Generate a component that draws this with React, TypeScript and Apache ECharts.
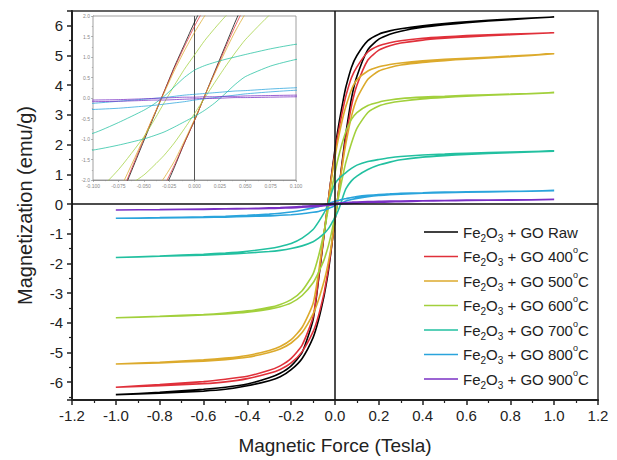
import React, { useEffect, useRef } from "react";
import * as echarts from "echarts";

// Applied field grid (Tesla), shared by every branch
const FIELD = [-1, -0.8, -0.6, -0.5, -0.4, -0.3, -0.25, -0.2, -0.15, -0.1, -0.075, -0.05, -0.04, -0.03, -0.02, -0.01, 0, 0.01, 0.02, 0.03, 0.04, 0.05, 0.075, 0.1, 0.15, 0.2, 0.25, 0.3, 0.4, 0.5, 0.6, 0.8, 1];

// Upper branch (field decreasing) and lower branch (field increasing), emu/g
const RAW_UPPER = [-6.42, -6.34, -6.24, -6.17, -6.06, -5.85, -5.7, -5.45, -5.0, -3.9, -2.55, -1.05, -0.45, 0.15, 0.75, 1.3, 1.85, 2.35, 2.8, 3.2, 3.6, 3.95, 4.6, 5.0, 5.5, 5.72, 5.83, 5.9, 6.0, 6.08, 6.14, 6.23, 6.3];
const RAW_LOWER = [-6.42, -6.37, -6.3, -6.24, -6.12, -5.95, -5.82, -5.58, -5.2, -4.5, -3.9, -3.1, -2.7, -2.25, -1.7, -1.1, -0.55, 0.05, 0.65, 1.25, 1.85, 2.4, 3.55, 4.3, 5.2, 5.55, 5.72, 5.82, 5.95, 6.04, 6.11, 6.21, 6.3];
const T400_UPPER = [-6.17, -6.08, -5.98, -5.9, -5.8, -5.6, -5.45, -5.2, -4.75, -3.8, -2.5, -1.0, -0.42, 0.15, 0.72, 1.25, 1.75, 2.2, 2.6, 2.98, 3.33, 3.65, 4.25, 4.62, 5.12, 5.33, 5.43, 5.5, 5.58, 5.63, 5.67, 5.72, 5.77];
const T400_LOWER = [-6.17, -6.12, -6.05, -5.99, -5.88, -5.7, -5.57, -5.35, -4.97, -4.3, -3.75, -3.0, -2.6, -2.15, -1.65, -1.1, -0.55, 0.05, 0.62, 1.2, 1.75, 2.25, 3.3, 4.0, 4.85, 5.18, 5.33, 5.42, 5.52, 5.58, 5.63, 5.7, 5.77];
const T500_UPPER = [-5.39, -5.33, -5.25, -5.19, -5.1, -4.93, -4.8, -4.57, -4.15, -3.35, -2.3, -0.98, -0.42, 0.12, 0.66, 1.15, 1.6, 2.0, 2.38, 2.72, 3.03, 3.3, 3.85, 4.18, 4.48, 4.62, 4.7, 4.75, 4.82, 4.87, 4.91, 4.98, 5.06];
const T500_LOWER = [-5.39, -5.35, -5.29, -5.24, -5.16, -5.0, -4.88, -4.68, -4.33, -3.7, -3.22, -2.6, -2.3, -1.95, -1.55, -1.05, -0.52, 0.05, 0.6, 1.12, 1.62, 2.05, 2.95, 3.55, 4.2, 4.48, 4.6, 4.68, 4.77, 4.83, 4.88, 4.96, 5.06];
const T600_UPPER = [-3.83, -3.78, -3.72, -3.67, -3.6, -3.48, -3.38, -3.22, -2.92, -2.35, -1.75, -0.95, -0.55, -0.12, 0.3, 0.7, 1.05, 1.4, 1.7, 1.98, 2.22, 2.45, 2.85, 3.08, 3.32, 3.43, 3.5, 3.55, 3.6, 3.63, 3.66, 3.7, 3.75];
const T600_LOWER = [-3.83, -3.79, -3.74, -3.7, -3.64, -3.54, -3.46, -3.33, -3.08, -2.65, -2.3, -1.88, -1.65, -1.4, -1.1, -0.75, -0.38, 0.0, 0.38, 0.75, 1.1, 1.42, 2.05, 2.55, 3.08, 3.3, 3.4, 3.46, 3.54, 3.59, 3.63, 3.69, 3.75];
const T700_UPPER = [-1.8, -1.75, -1.69, -1.65, -1.59, -1.5, -1.43, -1.33, -1.15, -0.86, -0.6, -0.3, -0.15, 0.04, 0.27, 0.5, 0.68, 0.79, 0.87, 0.94, 1.0, 1.06, 1.2, 1.31, 1.43, 1.5, 1.56, 1.6, 1.65, 1.68, 1.71, 1.75, 1.78];
const T700_LOWER = [-1.8, -1.76, -1.72, -1.69, -1.65, -1.6, -1.56, -1.5, -1.41, -1.27, -1.15, -1.0, -0.92, -0.83, -0.71, -0.58, -0.45, -0.3, -0.12, 0.1, 0.33, 0.52, 0.78, 0.94, 1.16, 1.31, 1.41, 1.49, 1.58, 1.63, 1.67, 1.73, 1.78];
const T800_UPPER = [-0.48, -0.46, -0.43, -0.41, -0.38, -0.34, -0.31, -0.27, -0.21, -0.13, -0.08, -0.03, -0.01, 0.01, 0.04, 0.07, 0.09, 0.11, 0.13, 0.15, 0.17, 0.18, 0.22, 0.25, 0.29, 0.32, 0.34, 0.36, 0.38, 0.4, 0.41, 0.43, 0.45];
const T800_LOWER = [-0.48, -0.47, -0.45, -0.44, -0.42, -0.4, -0.38, -0.36, -0.33, -0.28, -0.25, -0.2, -0.18, -0.15, -0.12, -0.09, -0.05, -0.02, 0.01, 0.04, 0.07, 0.1, 0.15, 0.19, 0.25, 0.29, 0.31, 0.33, 0.36, 0.38, 0.4, 0.42, 0.45];
const T900_UPPER = [-0.2, -0.19, -0.17, -0.16, -0.15, -0.13, -0.12, -0.1, -0.08, -0.05, -0.04, -0.02, -0.01, 0.0, 0.01, 0.02, 0.02, 0.03, 0.03, 0.04, 0.04, 0.05, 0.06, 0.07, 0.08, 0.09, 0.1, 0.1, 0.11, 0.12, 0.13, 0.14, 0.15];
const T900_LOWER = [-0.2, -0.19, -0.18, -0.17, -0.16, -0.15, -0.14, -0.13, -0.11, -0.09, -0.08, -0.06, -0.05, -0.05, -0.04, -0.03, -0.02, -0.01, -0.01, 0.0, 0.01, 0.01, 0.02, 0.03, 0.05, 0.06, 0.07, 0.08, 0.1, 0.11, 0.12, 0.13, 0.15];

const SERIES_NAMES = [
  "Fe2O3 + GO Raw",
  "Fe2O3 + GO 400°C",
  "Fe2O3 + GO 500°C",
  "Fe2O3 + GO 600°C",
  "Fe2O3 + GO 700°C",
  "Fe2O3 + GO 800°C",
  "Fe2O3 + GO 900°C",
];
const LEGEND_RICH = [
  "Fe{sub|2}O{sub|3} + GO Raw",
  "Fe{sub|2}O{sub|3} + GO 400{sup|o}C",
  "Fe{sub|2}O{sub|3} + GO 500{sup|o}C",
  "Fe{sub|2}O{sub|3} + GO 600{sup|o}C",
  "Fe{sub|2}O{sub|3} + GO 700{sup|o}C",
  "Fe{sub|2}O{sub|3} + GO 800{sup|o}C",
  "Fe{sub|2}O{sub|3} + GO 900{sup|o}C",
];
const UPPERS = [RAW_UPPER, T400_UPPER, T500_UPPER, T600_UPPER, T700_UPPER, T800_UPPER, T900_UPPER];
const LOWERS = [RAW_LOWER, T400_LOWER, T500_LOWER, T600_LOWER, T700_LOWER, T800_LOWER, T900_LOWER];
const COLORS = ["#000000", "#e0303a", "#dcaa2c", "#a2d03c", "#22c0a0", "#2aa4dc", "#7a30c4"];

const X_TITLE = "Magnetic Force (Tesla)";
const Y_TITLE = "Magnetization (emu/g)";
const FONT = "'Liberation Sans', Arial, Helvetica, sans-serif";

function loop(upper: number[], lower: number[]) {
  const down = FIELD.map((h, i) => [h, upper[i]]).reverse();
  const up = FIELD.map((h, i) => [h, lower[i]]);
  return down.concat(up);
}

export default function App() {
  const ref = useRef<HTMLDivElement>(null);
  useEffect(() => {
    if (!ref.current) return;
    const chart = echarts.init(ref.current, null, { renderer: "svg" });
    const axisColor = "#222";
    const mainSeries = SERIES_NAMES.map((name, k) => ({
      name,
      type: "line",
      xAxisIndex: 0,
      yAxisIndex: 0,
      data: loop(UPPERS[k], LOWERS[k]),
      symbol: "none",
      smooth: 0.2,
      lineStyle: { color: COLORS[k], width: 1.6 },
      itemStyle: { color: COLORS[k] },
      z: 3,
      ...(k === 0
        ? {
            markLine: {
              silent: true,
              symbol: ["none", "none"],
              label: { show: false },
              lineStyle: { color: "#111", width: 1.5, type: "solid" },
              data: [{ xAxis: 0 }, { yAxis: 0 }],
            },
          }
        : {}),
    }));
    const insetSeries = SERIES_NAMES.map((name, k) => ({
      name,
      type: "line",
      xAxisIndex: 1,
      yAxisIndex: 1,
      data: loop(UPPERS[k], LOWERS[k]),
      symbol: "none",
      smooth: 0.2,
      clip: true,
      lineStyle: { color: COLORS[k], width: 1, opacity: 0.75 },
      itemStyle: { color: COLORS[k] },
      z: 5,
      ...(k === 0
        ? {
            markLine: {
              silent: true,
              symbol: ["none", "none"],
              label: { show: false },
              lineStyle: { color: "#555", width: 1, type: "solid" },
              data: [{ xAxis: 0 }],
            },
          }
        : {}),
    }));

    chart.setOption({
      animation: false,
      backgroundColor: "#ffffff",
      textStyle: { fontFamily: FONT },
      grid: [
        { left: 72, right: 19, top: 11, bottom: 57, show: true, borderColor: "#333", borderWidth: 1.5, containLabel: false },
        { left: 93, right: 321, top: 16, bottom: 280, show: true, borderColor: "#888", borderWidth: 0.8, backgroundColor: "#fff", z: 4 },
      ],
      legend: {
        data: SERIES_NAMES,
        orient: "vertical",
        left: 419,
        top: 216,
        itemWidth: 34,
        itemHeight: 14,
        itemGap: 2.5,
        icon: "path://M0,6.25 L34,6.25 L34,7.75 L0,7.75 Z",
        formatter: (name: string) => LEGEND_RICH[SERIES_NAMES.indexOf(name)],
        textStyle: {
          fontFamily: FONT,
          fontSize: 15,
          lineHeight: 22,
          color: "#222",
          rich: {
            sub: { fontFamily: FONT, fontSize: 10, lineHeight: 12, verticalAlign: "bottom", color: "#222" },
            sup: { fontFamily: FONT, fontSize: 9, lineHeight: 12, verticalAlign: "top", color: "#222" },
          },
        },
      },
      xAxis: [
        {
          type: "value",
          gridIndex: 0,
          min: -1.2,
          max: 1.2,
          interval: 0.2,
          name: X_TITLE,
          nameLocation: "middle",
          nameGap: 36,
          nameTextStyle: { fontSize: 19, color: "#222", fontFamily: FONT },
          axisLine: { onZero: false, lineStyle: { color: axisColor, width: 2 } },
          axisTick: { inside: false, length: 5, lineStyle: { color: axisColor, width: 1.5 } },
          minorTick: { show: true, splitNumber: 2, length: 3, lineStyle: { color: axisColor, width: 1.2 } },
          splitLine: { show: false },
          axisLabel: { fontSize: 15, color: "#222", margin: 8, fontFamily: FONT, formatter: (v: number) => v.toFixed(1) },
        },
        {
          type: "value",
          gridIndex: 1,
          min: -0.1,
          max: 0.1,
          interval: 0.025,
          axisLine: { onZero: false, lineStyle: { color: "#888", width: 0.8 } },
          axisTick: { inside: false, length: 2, lineStyle: { color: "#888", width: 0.6 } },
          minorTick: { show: true, splitNumber: 2, length: 1.2, lineStyle: { color: "#888", width: 0.5 } },
          splitLine: { show: false },
          axisLabel: { fontSize: 5, color: "#888", margin: 3, fontFamily: FONT, formatter: (v: number) => v.toFixed(3) },
        },
      ],
      yAxis: [
        {
          type: "value",
          gridIndex: 0,
          min: -6.6,
          max: 6.5,
          splitNumber: 13,
          name: Y_TITLE,
          nameLocation: "middle",
          nameGap: 37,
          nameTextStyle: { fontSize: 20, color: "#222", fontFamily: FONT },
          axisLine: { onZero: false, lineStyle: { color: axisColor, width: 2 } },
          axisTick: { inside: false, length: 5, lineStyle: { color: axisColor, width: 1.5 } },
          minorTick: { show: true, splitNumber: 2, length: 3, lineStyle: { color: axisColor, width: 1.2 } },
          splitLine: { show: false },
          axisLabel: {
            fontSize: 15,
            color: "#222",
            margin: 9,
            fontFamily: FONT,
            showMinLabel: false,
            showMaxLabel: false,
            formatter: (v: number) => (Number.isInteger(v) ? String(v) : ""),
          },
        },
        {
          type: "value",
          gridIndex: 1,
          min: -2,
          max: 2,
          interval: 0.5,
          axisLine: { onZero: false, lineStyle: { color: "#888", width: 0.8 } },
          axisTick: { inside: false, length: 2, lineStyle: { color: "#888", width: 0.6 } },
          minorTick: { show: true, splitNumber: 2, length: 1.2, lineStyle: { color: "#888", width: 0.5 } },
          splitLine: { show: false },
          axisLabel: { fontSize: 5, color: "#888", margin: 3, fontFamily: FONT, formatter: (v: number) => v.toFixed(1) },
        },
      ],
      series: [...mainSeries, ...insetSeries],
    });
    return () => chart.dispose();
  }, []);
  return <div ref={ref} style={{ position: "fixed", left: 0, top: 0, width: 617, height: 460 }} />;
}
